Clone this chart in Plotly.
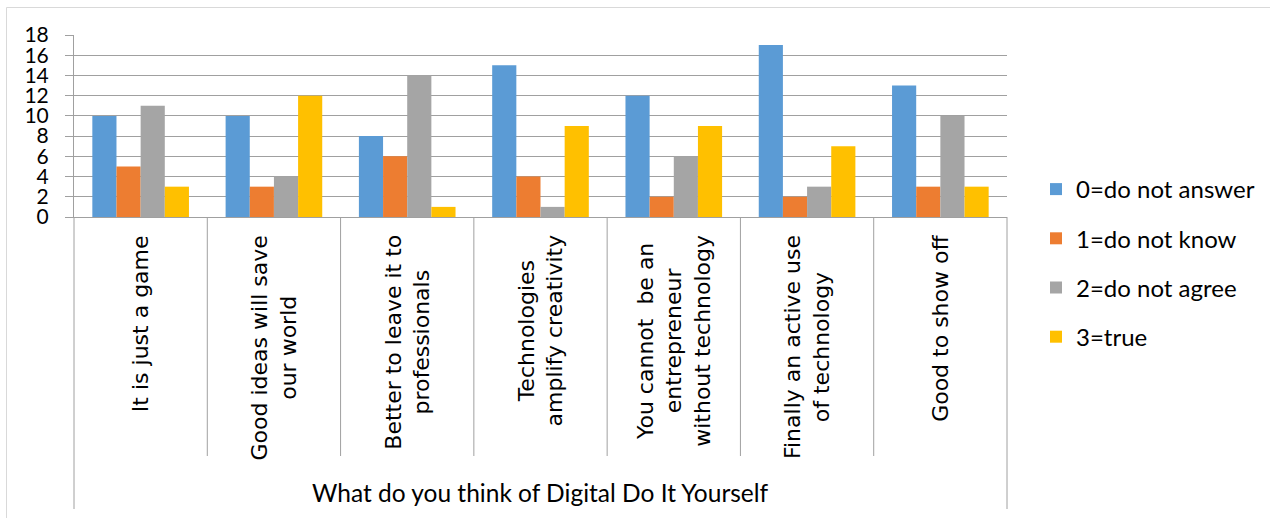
import plotly.graph_objects as go

# Survey statements (x categories)
categories = [
    "It is just a game",
    "Good ideas will save<br>our world",
    "Better to leave it to<br>professionals",
    "Technologies<br>amplify creativity",
    "You cannot  be an<br>entrepreneur<br>without technology",
    "Finally an active use<br>of technology",
    "Good to show off",
]

series_names = ["0=do not answer", "1=do not know", "2=do not agree", "3=true"]
do_not_answer = [10, 10, 8, 15, 12, 17, 13]
do_not_know = [5, 3, 6, 4, 2, 2, 3]
do_not_agree = [11, 4, 14, 1, 6, 3, 10]
true_answers = [3, 12, 1, 9, 9, 7, 3]

y_ticks = [0, 2, 4, 6, 8, 10, 12, 14, 16, 18]
axis_title = "What do you think of Digital Do It Yourself"

colors = ["#5B9BD5", "#ED7D31", "#A5A5A5", "#FFC000"]
series_values = [do_not_answer, do_not_know, do_not_agree, true_answers]

W, H = 1270, 518
M_L, M_R, M_T, M_B = 74, 263, 35, 301
plot_h = H - M_T - M_B


def py(pixel_y):
    """Pixel row -> paper y coordinate."""
    return (H - M_B - pixel_y) / plot_h


def px(pixel_x):
    return (pixel_x - M_L) / (W - M_L - M_R)


GRID = "#a0a0a0"
x_idx = list(range(len(categories)))

fig = go.Figure()
for i, (name, vals) in enumerate(zip(series_names, series_values)):
    fig.add_trace(go.Bar(
        x=x_idx, y=vals, name=name,
        marker=dict(color=colors[i], line=dict(width=0)),
        legendgroup=name,
    ))

shapes = []
n = len(categories)
# category separators below the plot
for k in range(n + 1):
    bottom = py(509) if k in (0, n) else py(456)
    shapes.append(dict(type="line", xref="paper", yref="paper",
                       x0=k / n, x1=k / n, y0=0, y1=bottom,
                       line=dict(color=GRID, width=1)))
# chart frame
shapes.append(dict(type="rect", xref="paper", yref="paper",
                   x0=px(6.5), x1=px(1290), y0=py(7.5), y1=py(540),
                   line=dict(color="#d9d9d9", width=1)))

annotations = []
for i, cat in enumerate(categories):
    annotations.append(dict(
        x=i, xref="x", y=py(233), yref="paper",
        text=cat, showarrow=False, textangle=-90,
        xanchor="center", yanchor="top", align="center",
        font=dict(family="DejaVu Sans", size=22, color="#000000"),
    ))
annotations.append(dict(
    x=0.5, xref="paper", y=py(492), yref="paper",
    text=axis_title, showarrow=False, xanchor="center", yanchor="middle",
    font=dict(family="Lato", size=24.5, color="#000000"),
))

fig.update_layout(
    width=W, height=H,
    margin=dict(l=M_L, r=M_R, t=M_T, b=M_B, pad=0, autoexpand=False),
    paper_bgcolor="white", plot_bgcolor="white",
    barmode="group", bargap=0.275, bargroupgap=0,
    showlegend=True,
    legend=dict(
        x=px(1036), xanchor="left", y=py(263), yanchor="middle",
        traceorder="grouped", tracegroupgap=15,
        font=dict(family="Lato", size=24, color="#000000"),
        itemwidth=30,
    ),
    xaxis=dict(
        range=[-0.5, n - 0.5], showticklabels=False, ticks="",
        showgrid=False, showline=True, linecolor=GRID, linewidth=1,
        zeroline=False, fixedrange=True,
    ),
    yaxis=dict(
        range=[0, 18], tickvals=y_ticks, ticktext=[str(v) for v in y_ticks],
        showgrid=True, gridcolor=GRID, gridwidth=1,
        showline=True, linecolor=GRID, linewidth=1,
        ticks="outside", ticklen=8, tickcolor=GRID,
        ticklabelstandoff=12,
        tickfont=dict(family="Lato", size=21, color="#000000"),
        zeroline=False,
    ),
    shapes=shapes,
    annotations=annotations,
)

fig.write_html("out.html")
